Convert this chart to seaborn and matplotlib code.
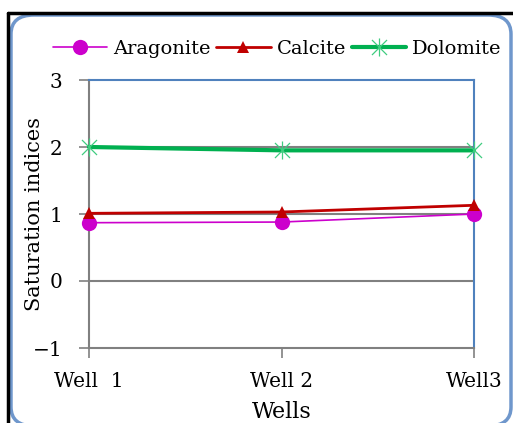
import matplotlib
matplotlib.use("Agg")
import matplotlib.pyplot as plt
from matplotlib.path import Path
from matplotlib.patches import FancyBboxPatch
from matplotlib.lines import Line2D
import seaborn as sns
import pandas as pd

wells = ["Well  1", "Well 2", "Well3"]
aragonite = [0.87, 0.88, 1.00]
calcite = [1.01, 1.03, 1.13]
dolomite = [2.00, 1.95, 1.95]
y_ticks = [-1, 0, 1, 2, 3]
y_labels = ["\u22121", "0", "1", "2", "3"]

sns.set_theme(style="white")
plt.rcParams["font.family"] = ["DejaVu Serif"]
plt.rcParams["text.color"] = "black"
plt.rcParams["axes.labelcolor"] = "black"
plt.rcParams["xtick.labelcolor"] = "black"
plt.rcParams["ytick.labelcolor"] = "black"

W, H = 513, 423
fig = plt.figure(figsize=(W / 100, H / 100), dpi=100)
ax = fig.add_axes([89 / W, 1 - 348 / H, (474 - 89) / W, (348 - 80) / H])

# star marker: an X crossed by a vertical stroke
star = Path([(-1, -1), (1, 1), (-1, 1), (1, -1), (0, -1.2), (0, 1.2)],
            [Path.MOVETO, Path.LINETO, Path.MOVETO, Path.LINETO, Path.MOVETO, Path.LINETO])

x = list(range(len(wells)))
series = [
    ("Aragonite", aragonite, "#CC00CC", 1.2, "o", 11, "#CC00CC"),
    ("Calcite", calcite, "#C00000", 2.0, "^", 9, "#C00000"),
    ("Dolomite", dolomite, "#00B050", 3.0, star, 13, "#40CC80"),
]
handles = []
for name, vals, col, lw, mk, ms, mcol in series:
    df = pd.DataFrame({"x": x, "y": vals})
    mew = 0.9 if mk is star else 0
    sns.lineplot(data=df, x="x", y="y", ax=ax, color=col, linewidth=lw,
                 marker=mk, markersize=ms, markerfacecolor=mcol,
                 markeredgecolor=mcol, markeredgewidth=mew,
                 clip_on=False, zorder=3)
    handles.append(Line2D([], [], color=col, lw=lw, marker=mk, markersize=ms,
                          markerfacecolor=mcol, markeredgecolor=mcol,
                          markeredgewidth=mew))

ax.set_xlim(0, 2)
ax.set_ylim(-1, 3)
ax.set_xticks(x)
ax.set_xticklabels(wells, fontsize=14.5)
ax.set_yticks(y_ticks)
ax.set_yticklabels(y_labels, fontsize=14.5)
for v in [0, 1, 2]:
    ax.axhline(v, color="#808080", lw=1.5, zorder=1)
ax.tick_params(axis="both", which="both", direction="out", length=7, width=1.2,
               color="#808080", left=True, bottom=True, pad=12)
ax.tick_params(axis="x", pad=10)
for s in ["left", "bottom"]:
    ax.spines[s].set_color("#808080")
    ax.spines[s].set_linewidth(1.5)
for s in ["top", "right"]:
    ax.spines[s].set_color("#4F81BD")
    ax.spines[s].set_linewidth(1.5)
ax.set_xlabel("Wells", fontsize=16)
ax.set_ylabel("Saturation indices", fontsize=15)
ax.xaxis.set_label_coords(0.5, (348 - 412) / 268)
ax.yaxis.set_label_coords((35 - 89) / 385, 0.5)
ax.xaxis.label.set_va("center")
ax.yaxis.label.set_va("center")

fig.legend(handles, ["Aragonite", "Calcite", "Dolomite"], loc="center",
           bbox_to_anchor=(277 / W, 1 - 49 / H), ncol=3, frameon=False,
           fontsize=14, handlelength=2.8, handletextpad=0.3, columnspacing=0.3)

# chart frame
fig.add_artist(FancyBboxPatch((11 / W, 1 - 426 / H), 500 / W, 411 / H,
                              boxstyle="round,pad=0,rounding_size=0.045",
                              transform=fig.transFigure, fill=False,
                              edgecolor="#6F97CC", lw=2.5))
fig.add_artist(Line2D([8 / W, 8 / W], [0, 1 - 13 / H], color="black", lw=2.5,
                      transform=fig.transFigure))
fig.add_artist(Line2D([8 / W, 1], [1 - 13 / H, 1 - 13 / H], color="black", lw=2.5,
                      transform=fig.transFigure))

fig.savefig("out.png", dpi=100)
